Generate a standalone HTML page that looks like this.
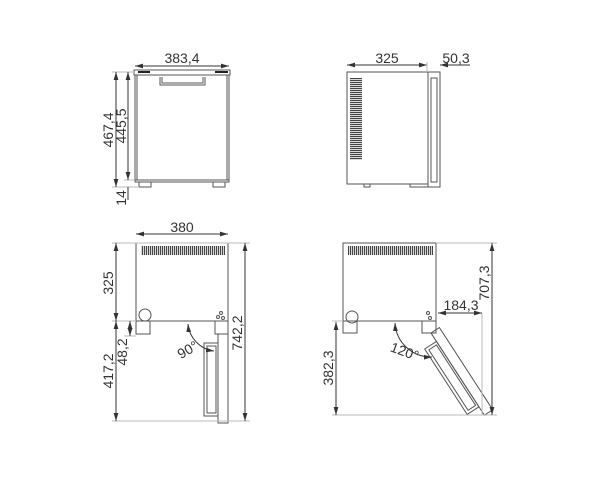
<!DOCTYPE html>
<html><head><style>body{margin:0;background:#fff}svg{display:block}text{font-family:"Liberation Sans",sans-serif;font-size:14px;fill:#333}</style></head>
<body>
<svg width="600" height="480" viewBox="0 0 600 480">
<defs>
<marker id="a" viewBox="0 0 10 6" refX="10" refY="3" markerWidth="8" markerHeight="5" orient="auto-start-reverse"><path d="M0 0L10 3L0 6z" fill="#333"/></marker>
<pattern id="v" width="2" height="4" patternUnits="userSpaceOnUse"><rect width="1.2" height="4" fill="#444"/></pattern>
<pattern id="h" width="4" height="2" patternUnits="userSpaceOnUse"><rect width="4" height="1.2" fill="#444"/></pattern>
</defs>
<g fill="none" stroke="#555" stroke-width="1">
<!-- Q1 front -->
<rect x="135" y="72" width="94" height="110"/>
<rect x="134" y="70" width="96" height="5" fill="#fff"/>
<line x1="138" y1="72" x2="150" y2="72" stroke="#222" stroke-width="2"/>
<line x1="215" y1="72" x2="228" y2="72" stroke="#222" stroke-width="2"/>
<line x1="137" y1="75" x2="137" y2="180"/><line x1="227" y1="75" x2="227" y2="180"/>
<path d="M160 77V85H205V77M162 77V83H203V77"/>
<line x1="135" y1="180" x2="229" y2="180"/>
<rect x="139" y="182" width="12" height="5"/><rect x="213" y="182" width="12" height="5"/>
<g stroke="#bbb"><line x1="112" y1="72" x2="134" y2="72"/><line x1="112" y1="187" x2="139" y2="187"/><line x1="124" y1="180" x2="135" y2="180"/></g>
<g stroke="#333" marker-start="url(#a)" marker-end="url(#a)">
<line x1="135" y1="66" x2="229" y2="66"/>
<line x1="116" y1="72" x2="116" y2="187"/>
<line x1="128" y1="72" x2="128" y2="180"/>
</g>
<line x1="128" y1="187" x2="128" y2="200" stroke="#333"/>
<!-- Q2 side -->
<rect x="347" y="72" width="81" height="112"/>
<rect x="350" y="78" width="12" height="82" fill="url(#h)" stroke="none"/>
<rect x="428" y="72" width="12" height="115"/>
<rect x="431" y="78" width="6" height="104"/>
<rect x="364" y="184" width="6" height="3"/><rect x="410" y="184" width="18" height="3"/>
<g stroke="#333" marker-start="url(#a)" marker-end="url(#a)"><line x1="347" y1="65" x2="427" y2="65"/></g>
<line x1="440" y1="65" x2="470" y2="65" stroke="#333" marker-start="url(#a)"/>
<line x1="427" y1="62" x2="427" y2="72" stroke="#bbb"/>
<!-- Q3 top -->
<rect x="136" y="243" width="92" height="78"/>
<rect x="141" y="246" width="84" height="9" fill="url(#v)" stroke="none"/>
<circle cx="145" cy="315" r="6"/>
<rect x="136" y="321" width="14" height="13"/>
<rect x="215" y="321" width="13" height="13"/>
<circle cx="221" cy="313" r="1.5"/><circle cx="223" cy="318" r="1.5"/><circle cx="218" cy="317" r="1.5"/>
<rect x="218" y="334" width="10" height="89"/>
<rect x="204" y="343" width="14" height="73"/>
<rect x="207" y="346" width="9" height="67"/>
<path d="M188 324A30 30 0 0 0 214 351" stroke="#333" marker-start="url(#a)" marker-end="url(#a)"/>
<g stroke="#bbb"><line x1="112" y1="243" x2="250" y2="243"/><line x1="112" y1="321" x2="136" y2="321"/><line x1="112" y1="421" x2="250" y2="421"/><line x1="124" y1="336" x2="136" y2="336"/></g>
<g stroke="#333" marker-start="url(#a)" marker-end="url(#a)">
<line x1="136" y1="234" x2="228" y2="234"/>
<line x1="116" y1="243" x2="116" y2="321"/>
<line x1="116" y1="321" x2="116" y2="421"/>
<line x1="130" y1="321" x2="130" y2="336"/>
<line x1="245" y1="243" x2="245" y2="421"/>
</g>
<!-- Q4 -->
<rect x="343" y="243" width="93" height="78"/>
<rect x="348" y="246" width="85" height="9" fill="url(#v)" stroke="none"/>
<circle cx="352" cy="317" r="6"/>
<rect x="343" y="321" width="14" height="12"/>
<rect x="422" y="321" width="14" height="12"/>
<circle cx="428" cy="313" r="1.5"/><circle cx="430" cy="318" r="1.5"/>
<g transform="translate(431,333) rotate(-33)">
<rect x="0" y="0" width="10" height="98"/>
<rect x="-14" y="10" width="14" height="78"/>
<rect x="-11" y="13" width="9" height="72"/>
</g>
<path d="M395 323A36 36 0 0 0 432 357" stroke="#333" marker-start="url(#a)" marker-end="url(#a)"/>
<g stroke="#bbb"><line x1="436" y1="243" x2="497" y2="243"/><line x1="332" y1="321" x2="343" y2="321"/><line x1="332" y1="415" x2="497" y2="415"/><line x1="482" y1="313" x2="482" y2="415"/></g>
<g stroke="#333" marker-start="url(#a)" marker-end="url(#a)">
<line x1="492" y1="243" x2="492" y2="415"/>
<line x1="336" y1="322" x2="336" y2="415"/>
<line x1="438" y1="313" x2="482" y2="313"/>
</g>
</g>
<g>
<text x="182" y="63" text-anchor="middle">383,4</text>
<text transform="translate(113,130) rotate(-90)" text-anchor="middle">467,4</text>
<text transform="translate(126,126) rotate(-90)" text-anchor="middle">445,5</text>
<text transform="translate(126,198) rotate(-90)" text-anchor="middle">14</text>
<text x="387" y="63" text-anchor="middle">325</text>
<text x="456" y="63" text-anchor="middle">50,3</text>
<text x="182" y="232" text-anchor="middle">380</text>
<text transform="translate(113,283) rotate(-90)" text-anchor="middle">325</text>
<text transform="translate(113,371) rotate(-90)" text-anchor="middle">417,2</text>
<text transform="translate(127,352) rotate(-90)" text-anchor="middle">48,2</text>
<text transform="translate(242,333) rotate(-90)" text-anchor="middle">742,2</text>
<text transform="translate(190,354) rotate(-30)" text-anchor="middle">90°</text>
<text transform="translate(489,283) rotate(-90)" text-anchor="middle">707,3</text>
<text transform="translate(333,368) rotate(-90)" text-anchor="middle">382,3</text>
<text x="461" y="310" text-anchor="middle">184,3</text>
<text transform="translate(403,356) rotate(20)" text-anchor="middle">120°</text>
</g>
</svg>
</body></html>
